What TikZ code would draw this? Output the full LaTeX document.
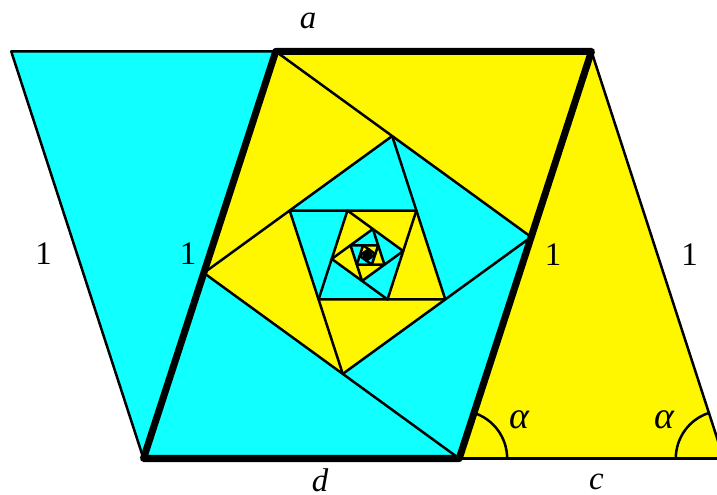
\documentclass[tikz,border=0pt]{standalone}
\usepackage{fontspec}
\setmainfont{Liberation Serif}
\definecolor{cy}{RGB}{16,255,255}
\definecolor{ye}{RGB}{255,247,0}
\begin{document}
\begin{tikzpicture}[x=428bp,y=428bp,
  thinline/.style={line width=2.5bp, line join=round, line cap=round},
  thickline/.style={line width=7bp, line join=round},
  lbl/.style={inner sep=0pt, font=\fontsize{33}{40}\selectfont},
  glbl/.style={inner sep=0pt, font=\fontsize{38}{44}\selectfont}]
\useasboundingbox (-0.33528,-0.08528) rectangle (1.33995,1.07126);
\clip (-0.33528,-0.08528) rectangle (1.33995,1.07126);
% outer points
\coordinate (D) at (0,0);
\coordinate (C) at (0.73764,0);
\coordinate (A) at (0.309017,0.951057);
\coordinate (B) at (1.046657,0.951057);
\coordinate (TL) at (-0.309017,0.951057);
\coordinate (CR) at (1.355674,0);
% side triangles
\fill[cy] (TL) -- (A) -- (D) -- cycle;
\fill[ye] (B) -- (CR) -- (C) -- cycle;
% spiral fills
\foreach \n in {0,...,9} {
  \pgfmathsetmacro\s{0.544113^\n}
  \pgfmathsetmacro\r{-36*\n}
  \pgfmathtruncatemacro\lvlpar{mod(\n,2)}
  \ifnum\lvlpar=0 \def\ca{ye}\def\cb{cy}\else \def\ca{cy}\def\cb{ye}\fi
  \begin{scope}[shift={(0.523322,0.475530)}, rotate=\r, scale=\s, shift={(-0.523322,-0.475530)}]
    \fill[\ca] (0.309017,0.951057) -- (1.046657,0.951057) -- (0.905780,0.517488) -- cycle;
    \fill[\ca] (0.309017,0.951057) -- (0.140877,0.433569) -- (0.581074,0.753399) -- cycle;
    \fill[\cb] (0.73764,0) -- (0,0) -- (0.140877,0.433569) -- cycle;
    \fill[\cb] (0.905780,0.517488) -- (0.73764,0) -- (0.465583,0.197658) -- cycle;
  \end{scope}
}
% spiral lines
\foreach \n in {0,...,9} {
  \pgfmathsetmacro\s{0.544113^\n}
  \pgfmathsetmacro\r{-36*\n}
  \begin{scope}[shift={(0.523322,0.475530)}, rotate=\r, scale=\s, shift={(-0.523322,-0.475530)}]
    \draw[thinline] (0.309017,0.951057) -- (0.905780,0.517488);
    \draw[thinline] (0.73764,0) -- (0.140877,0.433569);
    \draw[thinline] (0.905780,0.517488) -- (0.465583,0.197658);
    \draw[thinline] (0.140877,0.433569) -- (0.581074,0.753399);
  \end{scope}
}
\fill (0.523322,0.475530) circle[radius=0.012];
% side triangle outlines
\draw[thinline] (A) -- (TL) -- (D);
\draw[thinline] (B) -- (CR) -- (C);
% angle arcs
\draw[thinline] (C) ++(0.112,0) arc[start angle=0, end angle=72, radius=0.112];
\draw[thinline] (CR) ++(-0.112,0) arc[start angle=180, end angle=108, radius=0.112];
% thick parallelogram
\draw[thickline] (A) -- (B) -- (C) -- (D) -- cycle;
% labels
\node[lbl] (la) at (0.3843,1.0222) {\textit{a}};
\node[lbl] (l1) at (-0.2336,0.4778) {1};
\node[lbl] (l2) at (0.1040,0.4778) {1};
\node[lbl] (l3) at (0.9568,0.4766) {1};
\node[lbl] (l4) at (1.2757,0.4766) {1};
\node[lbl] (ld) at (0.4124,-0.0500) {\textit{d}};
\node[lbl] (lc) at (1.0584,-0.0545) {\textit{c}};
\node[glbl] (lal1) at (0.8797,0.0900) {\textit{α}};
\node[glbl] (lal2) at (1.2185,0.0900) {\textit{α}};
\end{tikzpicture}
\end{document}
